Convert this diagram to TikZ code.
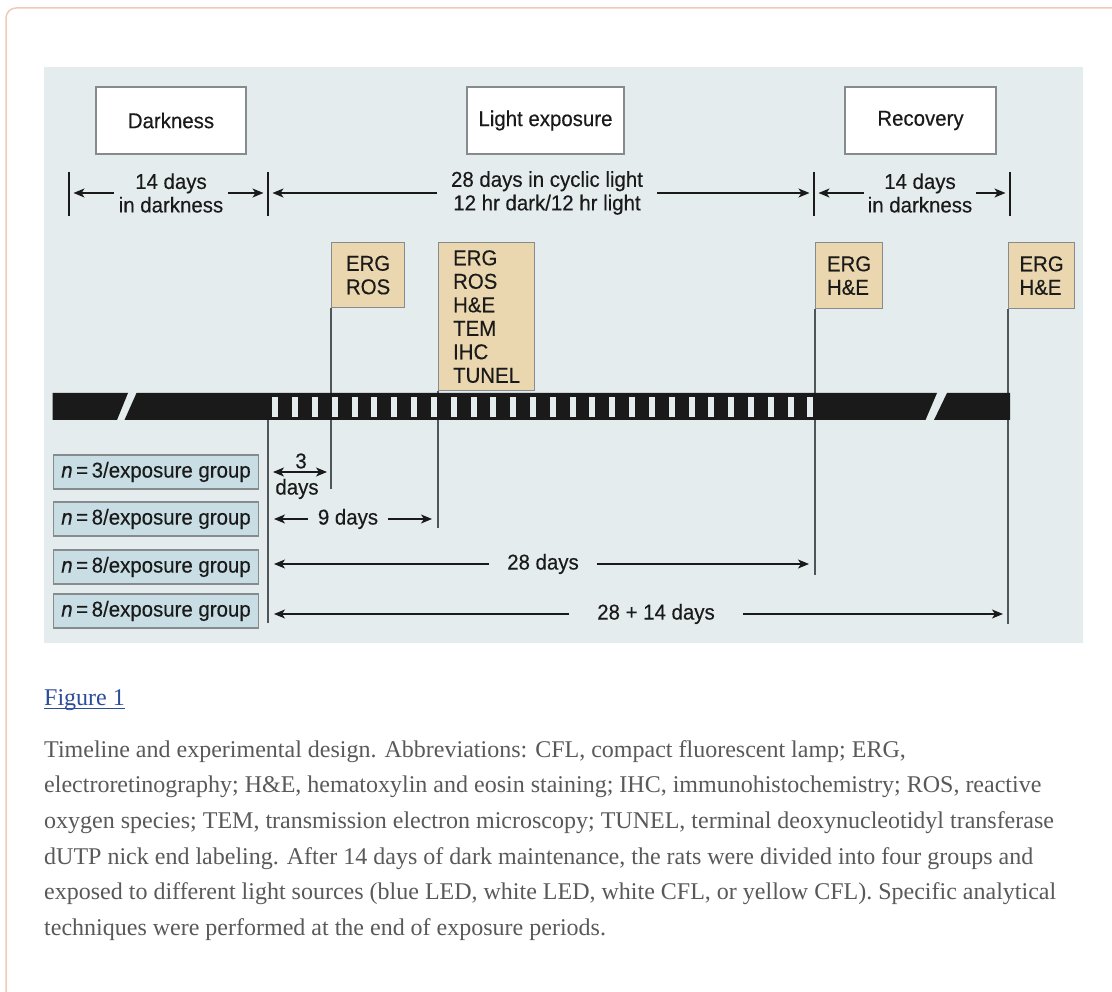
\documentclass[tikz,border=0pt]{standalone}
\usepackage{fontspec}
\setmainfont{Liberation Serif}
\newfontfamily\figfont[FakeStretch=0.95,FakeBold=0.3]{Liberation Sans}
\usetikzlibrary{arrows.meta}
\definecolor{panel}{HTML}{E4ECEE}
\definecolor{tanbox}{HTML}{EBD7AF}
\definecolor{grpbox}{HTML}{C8DEE4}
\definecolor{boxedge}{HTML}{868C8E}
\definecolor{stemgrey}{HTML}{4F5558}
\definecolor{ink}{HTML}{1A1A1A}
\definecolor{cardline}{HTML}{F2CAB4}
\definecolor{capgrey}{HTML}{595959}
\definecolor{linkblue}{HTML}{2C4C9C}
\newcommand{\figtxt}{\figfont\fontsize{21.5}{23.5}\selectfont}

\begin{document}
\begin{tikzpicture}[x=1pt,y=-1pt,>={Stealth[length=11pt,width=9pt,inset=3pt]},
  phasebox/.style={draw=boxedge,line width=1.2pt,fill=white,minimum height=67pt,inner sep=0pt,font=\figtxt,text=ink},
  assay/.style={draw=boxedge,line width=1.2pt,fill=tanbox,anchor=north west,align=left,inner sep=0pt,font=\figtxt,text=ink},
  grp/.style={draw=boxedge,line width=1.2pt,fill=grpbox,minimum width=205pt,minimum height=34pt,inner sep=0pt,font=\figtxt,text=ink},
  lbl/.style={align=center,font=\figtxt,text=ink,inner ysep=0pt},
  spanarr/.style={->,line width=1.4pt,ink},
  stem/.style={line width=1.5pt,stemgrey}]
\useasboundingbox (0,0) rectangle (1112,992);
\clip (0,0) rectangle (1112,992);
\fill[white] (0,0) rectangle (1112,992);
\draw[cardline,line width=1.5pt,rounded corners=10pt] (6,1020) -- (6,8) -- (1140,8);
\fill[panel] (44,67) rectangle (1083,643);
% phases
\node[phasebox,minimum width=150pt] (dk) at (171,120.5) {Darkness};
\node[phasebox,minimum width=157pt] (lt) at (545.5,120.5) {Light exposure};
\node[phasebox,minimum width=151pt] (rc) at (920.5,120.5) {Recovery};
%
\coordinate (m0) at (69,194);
\coordinate (m1) at (268,194);
\coordinate (m2) at (814,194);
\coordinate (m3) at (1010,194);
\foreach \m in {m0,m1,m2,m3} \draw[stem,ink] (\m) ++(0,-22) -- ++(0,44);
\node[lbl,inner xsep=5pt] (s1) at (171,193) {14 days\\in darkness};
\node[lbl,inner xsep=14pt] (s2) at (547,193) {28 days in cyclic light\\12 hr dark/12 hr light};
\node[lbl,inner xsep=4pt] (s3) at (920,193) {14 days\\in darkness};
\draw[spanarr,shorten >=4.5pt] (s1.west) -- (s1.west -| m0);
\draw[spanarr,shorten >=4.5pt] (s1.east) -- (s1.east -| m1);
\draw[spanarr,shorten >=4.5pt] (s2.west) -- (s2.west -| m1);
\draw[spanarr,shorten >=4.5pt] (s2.east) -- (s2.east -| m2);
\draw[spanarr,shorten >=4.5pt] (s3.west) -- (s3.west -| m2);
\draw[spanarr,shorten >=4.5pt] (s3.east) -- (s3.east -| m3);
% assays
\node[assay,minimum width=73pt,minimum height=65pt] (a1) at (331,242) {ERG\\ROS};
\node[assay,minimum width=96pt,minimum height=148pt] (a2) at (438,242) {ERG\\ROS\\H\&E\\TEM\\IHC\\TUNEL};
\node[assay,minimum width=67pt,minimum height=66pt] (a3) at (815,242) {ERG\\H\&E};
\node[assay,minimum width=66pt,minimum height=66pt] (a4) at (1008,242) {ERG\\H\&E};
\coordinate (e0a) at (268,420);
\coordinate (e0) at (268,623);
\coordinate (e1) at (331,489);
\coordinate (e2) at (438,528);
\coordinate (e3) at (815,575);
\coordinate (e4) at (1008,624);
\draw[stem] (e0a) -- (e0);
\draw[stem] (a1.south west) -- (e1);
\draw[stem] (a2.south west) -- (e2);
\draw[stem] (a3.south west) -- (e3);
\draw[stem] (a4.south west) -- (e4);
% timeline bar
\fill[ink] (52.5,393) -- (128,393) -- (117,420) -- (52.5,420) -- cycle;
\fill[ink] (136.5,393) -- (937,393) -- (925.5,420) -- (124.5,420) -- cycle;
\fill[ink] (947,393) -- (1010,393) -- (1010,420) -- (934,420) -- cycle;
\foreach \i in {0,...,27} \fill[panel] ({272.3+19.82*\i},397) rectangle ++(6,20);
% groups
\node[grp] (g1) at (156,472) {\textit{n}\,=\,3/exposure group};
\node[grp] (g2) at (156,519) {\textit{n}\,=\,8/exposure group};
\node[grp] (g3) at (156,567) {\textit{n}\,=\,8/exposure group};
\node[grp] (g4) at (156,611) {\textit{n}\,=\,8/exposure group};
%
\node[lbl] (d3) at (301,461) {3};
\node[lbl] (dd3) at (297,489) {days};
\coordinate (c3a) at (268,472);
\coordinate (c3b) at (331,472);
\draw[<->,line width=1.4pt,ink,shorten <=5pt,shorten >=4pt] (c3a) -- (c3b);
\node[lbl,inner xsep=10pt] (d9) at (348,519) {9 days};
\draw[spanarr,shorten >=6pt] (d9.west) -- (d9.west -| e0);
\draw[spanarr,shorten >=6pt] (d9.east) -- (d9.east -| e2);
\node[lbl,inner xsep=18pt] (d28) at (543,564) {28 days};
\draw[spanarr,shorten >=6pt] (d28.west) -- (d28.west -| e0);
\draw[spanarr,shorten >=6pt] (d28.east) -- (d28.east -| e3);
\node[lbl,inner xsep=28pt] (d42) at (656,614) {28 + 14 days};
\draw[spanarr,shorten >=6pt] (d42.west) -- (d42.west -| e0);
\draw[spanarr,shorten >=5pt] (d42.east) -- (d42.east -| e4);
% caption
\node[anchor=base west,inner sep=0pt,text=linkblue,font=\fontsize{24}{28}\selectfont] (fig) at (44,705) {Figure 1};
\draw[linkblue,line width=1.2pt] ([yshift=-3.5pt]fig.base west) -- ([yshift=-3.5pt]fig.base east);
\node[anchor=north west,inner sep=0pt,align=left,text=capgrey,font=\fontsize{24}{35.7}\selectfont] (cap) at (44,740) {Timeline and experimental design. Abbreviations: CFL, compact fluorescent lamp; ERG,\\
electroretinography; H\&E, hematoxylin and eosin staining; IHC, immunohistochemistry; ROS, reactive\\
oxygen species; TEM, transmission electron microscopy; TUNEL, terminal deoxynucleotidyl transferase\\
dUTP nick end labeling. After 14 days of dark maintenance, the rats were divided into four groups and\\
exposed to different light sources (blue LED, white LED, white CFL, or yellow CFL). Specific analytical\\
techniques were performed at the end of exposure periods.};
\end{tikzpicture}
\end{document}
